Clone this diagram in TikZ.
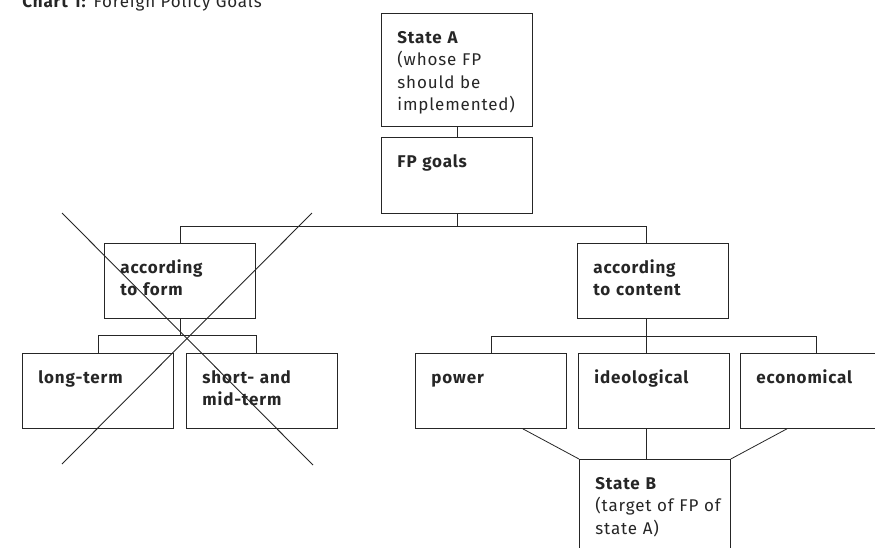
\documentclass[tikz,border=0pt]{standalone}
\usepackage{fontspec}
\setmainfont{Fira Sans}[LetterSpace=5]
\begin{document}
\begin{tikzpicture}[x=1pt, y=-1pt, line width=0.8pt, color=black!85,
        goal/.style={draw, anchor=north west, inner xsep=16pt, inner ysep=0pt, align=left, text width=119pt, text height=30pt, text depth=45pt, font=\fontsize{17}{22.5}\selectfont\bfseries},
        crossout/.style={line width=0.9pt}
    ]
        \path[use as bounding box, clip] (0,0) rectangle (875,547);
        % Titel
        \node[anchor=base west, inner sep=0pt, font=\fontsize{17}{20}\selectfont] (title) at (22,7) {\textbf{Chart 1:} Foreign Policy Goals};
        % Kaesten, von oben nach unten
        \node[goal, text depth=83pt] (stateA) at (381,13) {State A\\\mdseries(whose FP\\should be\\implemented)};
        \node[goal, text depth=46pt] (goals) at (381,137) {FP goals};
        \node[goal] (form) at (104,243) {according\\to form};
        \node[goal] (content) at (577,243) {according\\to content};
        \node[goal] (longterm) at (22,353) {long-term};
        \node[goal] (shortmid) at (186,353) {short- and\\mid-term};
        \node[goal] (power) at (415,353) {power};
        \node[goal] (ideol) at (578,353) {ideological};
        \node[goal] (econ) at (740,353) {economical};
        \node[goal, text depth=70pt] (stateB) at (579,459) {State B\\\mdseries\mbox{(target of FP of}\\state A)};
        % Verbindungen
        \draw (stateA) -- (goals);
        \draw (goals.south) -- ++(0,13) coordinate (j1);
        \draw (form.north) |- (j1) -| ([xshift=-7pt]content.north);
        \draw (form.south) -- ++(0,17) coordinate (j2);
        \draw (longterm.north) |- (j2) -| ([xshift=-6pt]shortmid.north);
        \draw ([xshift=-7pt]content.south) -- ++(0,18) coordinate (j3);
        \draw (power.north) |- (j3) -| (econ.north);
        \draw (j3) -- (j3 |- ideol.north);
        \draw (j3 |- ideol.south) -- (j3 |- stateB.north);
        \draw ([xshift=-44pt]power.south east) -- (stateB.north west);
        \draw ([xshift=47pt]econ.south west) -- (stateB.north east);
        % durchgestrichen
        \coordinate (c1) at (62,213);
        \coordinate (c2) at (313,465);
        \coordinate (c3) at (312,213);
        \coordinate (c4) at (62,464);
        \draw[crossout] (c1) -- (c2);
        \draw[crossout] (c3) -- (c4);
    \end{tikzpicture}
\end{document}
